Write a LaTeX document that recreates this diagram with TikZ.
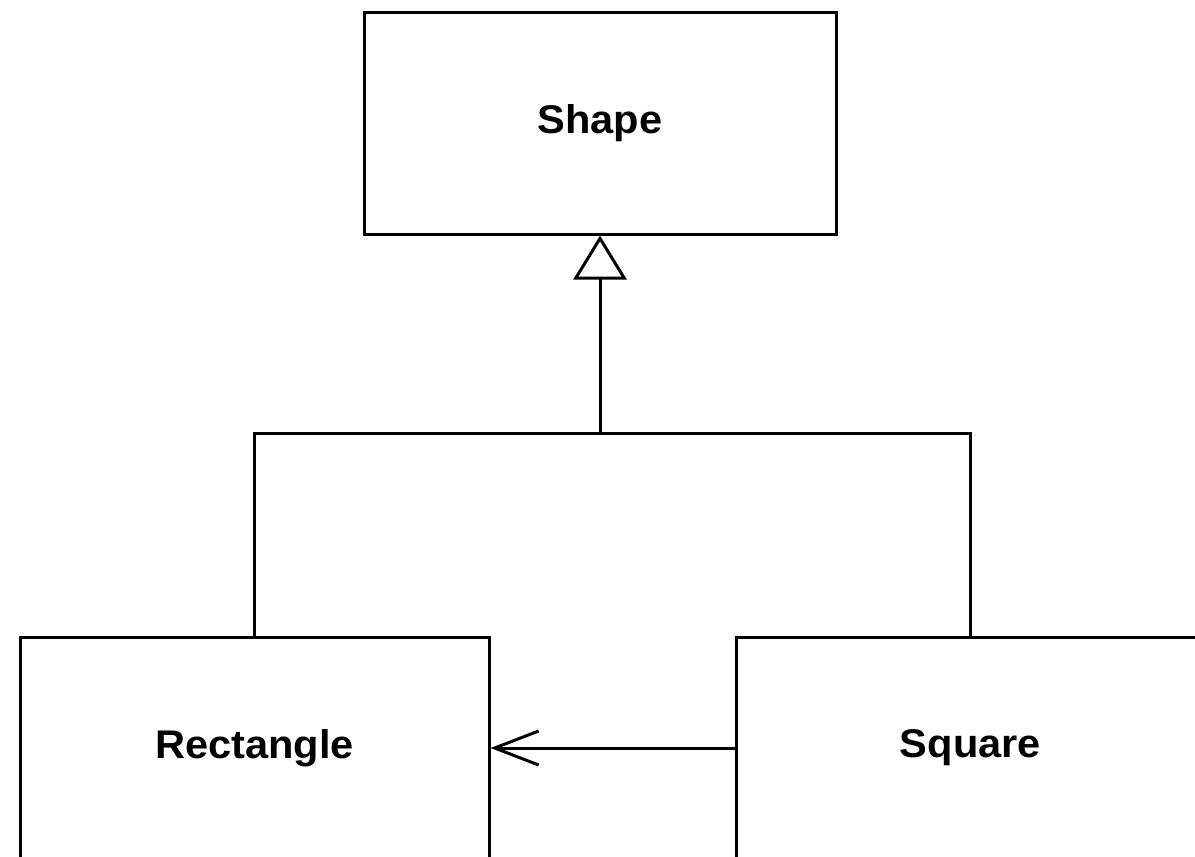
\documentclass[tikz,border=0pt]{standalone}
\usepackage{fontspec}
\setmainfont{Liberation Sans}
\newfontfamily\clsfont[FakeStretch=1.04]{Liberation Sans}
\usetikzlibrary{arrows.meta}
\begin{document}
\begin{tikzpicture}[x=1pt,y=-1pt,
  cls/.style={draw, line width=3pt, minimum width=469pt, minimum height=222pt, inner sep=0pt,
    font=\clsfont\fontsize{40}{48}\selectfont\bfseries},
  conn/.style={line width=3pt},
  gen/.style={conn, -{Triangle[open, length=44pt, width=53pt]}},
  dep/.style={conn, -{Straight Barb[length=44pt, width=34pt]}}]
\useasboundingbox (0,0) rectangle (1195,857);
\node[cls, minimum width=472pt] (shape) at (600,123) {Shape};
\node[cls] (rect) at (254.5,748) {Rectangle};
\node[cls] (sq) at (970.5,748) {Square};
\coordinate (j) at (600,433);
\draw[gen] (j) -- (shape.south);
\draw[conn] (rect.north) |- (j) -| (sq.north);
\draw[dep] (sq.west) -- (rect.east);
\end{tikzpicture}
\end{document}
